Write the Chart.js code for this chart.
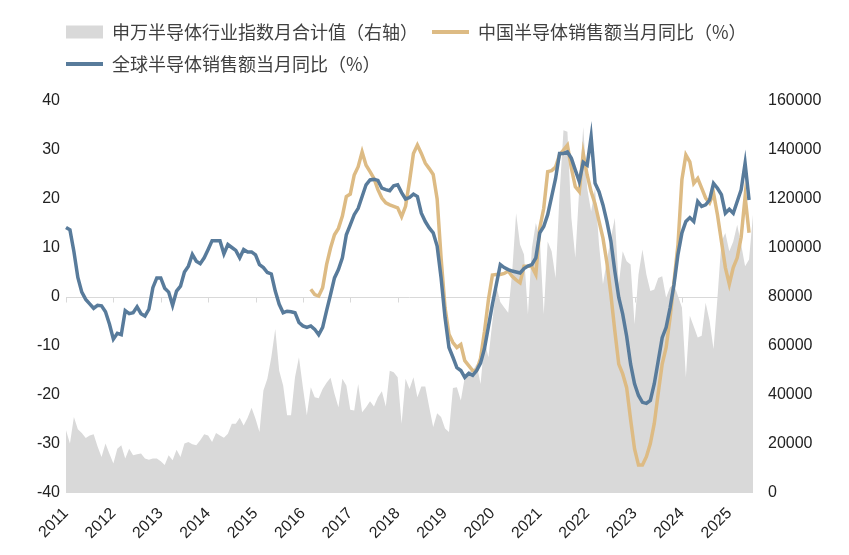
<!DOCTYPE html>
<html>
<head>
<meta charset="utf-8">
<script src="https://cdn.jsdelivr.net/npm/chart.js@4.4.1/dist/chart.umd.min.js"></script>
<style>
    html, body { margin: 0; padding: 0; background: #fff; }
    #wrap { width: 849px; height: 555px; }
</style>
</head>
<body>
<div id="wrap"><canvas id="chart"></canvas></div>
<script>
// years shown on the x axis; data is monthly, Jan 2011 - Jul 2025
const years = ["2011", "2012", "2013", "2014", "2015", "2016", "2017", "2018",
    "2019", "2020", "2021", "2022", "2023", "2024", "2025"];
const months = [];
years.forEach((y) => {
    for (let m = 1; m <= 12; m++) months.push(y + "-" + String(m).padStart(2, "0"));
});
months.length = 175;

// 申万半导体行业指数月合计值 (right axis)
const swIndex = [
    25600, 20200, 31000, 26000, 24500, 22500, 23500, 24000, 19000, 14700, 20200, 16000,
    12000, 18100, 19500, 14100, 18100, 15400, 15800, 16100, 14100, 13600, 14100, 14100,
    13000, 11400, 15400, 13400, 17700, 14700, 20200, 20800, 19900, 19500, 21500, 24000,
    23500, 20800, 24500, 23500, 22600, 24200, 28300, 28300, 30700, 27600, 30700, 34800,
    30300, 24900, 41800, 46600, 55400, 66900, 49900, 43900, 31700, 31700, 47200, 55400,
    43200, 31700, 43200, 39100, 38700, 42500, 45000, 47000, 40500, 35000, 46600, 43900,
    34000, 33700, 44500, 33000, 35000, 37500, 35300, 39100, 41500, 35300, 49900, 49300,
    47200, 28300, 46600, 42500, 47200, 39100, 43500, 43500, 35000, 26900, 32600, 31000,
    26300, 24900, 42900, 43200, 37800, 47200, 49900, 49700, 52700, 44500, 62100, 55400,
    70000, 84500, 78000, 75700, 73600, 90000, 114200, 101400, 97300, 73000, 100000, 110200,
    104100, 73000, 102700, 98700, 87800, 121700, 148100, 147400, 112200, 96000, 124400, 149400,
    124400, 114900, 124400, 101400, 85200, 95000, 104100, 112200, 85200, 98700, 94600, 93300,
    68900, 89200, 99400, 89200, 82400, 83100, 87800, 88500, 79700, 84000, 85200, 80400,
    75700, 47200, 72300, 68000, 63500, 64200, 77700, 70300, 58800, 79700, 102700, 106100,
    98700, 102700, 109500, 101400, 92600, 95300, 113600
];

// 中国半导体销售额当月同比 (%), starts Mar 2016
const chinaYoY = Array(62).fill(null).concat([
    1.6, 0.5, 0.2, 1.9, 6.6, 10.0, 12.7, 14.0, 16.5, 20.5,
    21.0, 24.9, 26.6, 29.6, 26.9, 25.6, 24.2, 21.9, 20.2, 19.2, 18.8, 18.5,
    18.2, 16.4, 18.5, 23.6, 29.3, 31.0, 29.3, 27.3, 26.2, 25.0, 20.0, 8.0,
    -2.2, -7.6, -9.3, -10.3, -9.7, -13.0, -14.0, -15.0, -15.0, -12.5, -7.0, -0.5,
    4.5, 4.6, 4.6, 4.8, 5.3, 4.2, 3.5, 2.9, 6.3, 6.3, 6.2, 4.6,
    14.1, 18.1, 25.6, 25.8, 26.5, 29.0, 30.0, 31.0, 26.3, 22.5, 21.5, 29.3,
    24.9, 21.5, 19.0, 15.5, 12.0, 7.0, 0.5, -6.9, -13.7, -15.7, -18.5, -25.0,
    -31.0, -34.3, -34.3, -32.6, -29.9, -25.8, -19.6, -13.7, -10.3, -4.2, 3.2, 10.7,
    24.0, 29.0, 27.6, 23.2, 24.2, 22.2, 20.2, 19.2, 21.2, 16.8, 11.4, 6.0,
    2.6, 6.0, 8.0, 12.2, 20.5, 13.1, null
]);

// 全球半导体销售额当月同比 (%)
const globalYoY = [
    14.2, 13.7, 9.3, 4.0, 1.0, -0.5, -1.4, -2.3, -1.7, -1.8, -3.0, -5.5,
    -8.6, -7.4, -7.7, -2.8, -3.4, -3.2, -2.0, -3.4, -3.9, -2.5, 1.9, 3.9,
    3.9, 1.8, 1.0, -1.7, 1.2, 2.2, 5.1, 6.3, 8.7, 7.3, 6.8, 8.0,
    9.7, 11.5, 11.5, 11.5, 8.8, 10.7, 10.1, 9.5, 8.0, 9.7, 9.2, 9.2,
    8.6, 6.6, 6.0, 5.0, 4.7, 1.2, -1.5, -3.2, -2.9, -3.0, -3.2, -5.2,
    -5.9, -6.2, -5.9, -6.6, -7.7, -6.2, -2.8, 0.5, 3.9, 5.6, 8.0, 12.7,
    14.7, 16.8, 18.1, 20.5, 22.9, 23.9, 24.0, 23.8, 22.2, 21.9, 21.7, 22.7,
    22.9, 21.3, 20.0, 20.3, 21.0, 20.5, 17.1, 15.4, 14.1, 13.1, 10.4, 3.9,
    -4.2, -10.3, -12.3, -14.4, -15.0, -16.4, -15.6, -16.0, -15.0, -13.5, -10.5, -6.0,
    -1.5, 2.6, 6.6, 6.0, 5.6, 5.3, 5.1, 4.9, 5.8, 6.3, 6.6, 8.0,
    13.1, 14.4, 16.8, 20.5, 24.2, 29.3, 29.3, 29.6, 28.3, 25.9, 23.6, 27.5,
    26.9, 32.7, 23.2, 21.5, 18.8, 15.4, 11.4, 5.3, -0.1, -3.5, -8.0, -13.7,
    -17.7, -20.1, -21.5, -21.7, -21.1, -17.7, -13.0, -8.3, -6.2, -2.2, 2.6, 8.7,
    13.1, 15.4, 16.2, 15.4, 19.5, 18.5, 18.8, 19.8, 23.2, 22.2, 20.9, 17.1,
    17.9, 17.1, 19.5, 21.9, 27.3, 19.8, null
];

const leftTicks = [-40, -30, -20, -10, 0, 10, 20, 30, 40];
const rightTicks = [0, 20000, 40000, 60000, 80000, 100000, 120000, 140000, 160000];

const tickFont = { family: "'Liberation Sans', Arial, sans-serif", size: 16 };

// zero line with small year ticks, drawn under the data
const zeroAxis = {
    id: "zeroAxis",
    beforeDatasetsDraw(chart) {
        const { ctx, chartArea, scales } = chart;
        const y0 = Math.round(scales.y.getPixelForValue(0)) + 0.5;
        ctx.save();
        ctx.strokeStyle = "#d9d9d9";
        ctx.lineWidth = 1;
        ctx.beginPath();
        ctx.moveTo(chartArea.left, y0);
        ctx.lineTo(chartArea.right, y0);
        months.forEach((m, i) => {
            if (m.endsWith("-01")) {
                const x = Math.round(scales.x.getPixelForValue(i)) + 0.5;
                ctx.moveTo(x, y0);
                ctx.lineTo(x, y0 + 5);
            }
        });
        ctx.stroke();
        ctx.restore();
    }
};

// move the legend so its rows start at the plot's left edge
const legendShift = {
    id: "legendShift",
    afterLayout(chart) {
        const lg = chart.legend;
        lg.left += 52;
        lg.right += 52;
        lg.top -= 18;
        lg.bottom -= 18;
    }
};

new Chart(document.getElementById("chart"), {
    type: "line",
    data: {
        labels: months,
        datasets: [
            {
                label: "申万半导体行业指数月合计值（右轴）",
                data: swIndex,
                yAxisID: "y1",
                fill: "origin",
                backgroundColor: "#d9d9d9",
                borderColor: "#d9d9d9",
                borderWidth: 0,
                pointRadius: 0,
                pointStyle: "rect",
                pointBorderWidth: 0,
                tension: 0,
                order: 3
            },
            {
                label: "中国半导体销售额当月同比（%）",
                data: chinaYoY,
                yAxisID: "y",
                borderColor: "#ddbb84",
                backgroundColor: "#ddbb84",
                borderWidth: 3.5,
                pointRadius: 0,
                pointStyle: "line",
                pointBorderWidth: 4,
                tension: 0,
                order: 2
            },
            {
                label: "全球半导体销售额当月同比（%）",
                data: globalYoY,
                yAxisID: "y",
                borderColor: "#587b9b",
                backgroundColor: "#587b9b",
                borderWidth: 3.5,
                pointRadius: 0,
                pointStyle: "line",
                pointBorderWidth: 4,
                tension: 0,
                order: 1
            }
        ]
    },
    options: {
        responsive: true,
        maintainAspectRatio: false,
        animation: false,
        layout: { padding: { top: 27, left: 0, right: 0, bottom: 0 } },
        plugins: {
            legend: {
                position: "top",
                align: "start",
                labels: {
                    usePointStyle: true,
                    pointStyleWidth: 37,
                    boxHeight: 13,
                    padding: 14,
                    color: "#404040",
                    font: { family: "'Noto Sans CJK SC', sans-serif", size: 18 },
                    sort: (a, b) => a.datasetIndex - b.datasetIndex
                }
            },
            tooltip: { enabled: false }
        },
        scales: {
            x: {
                offset: false,
                grid: { display: false, drawTicks: false },
                border: { display: false },
                afterFit: (scale) => { scale.height = 62; },
                ticks: {
                    autoSkip: false,
                    minRotation: 45,
                    maxRotation: 45,
                    padding: 11,
                    color: "#222",
                    font: tickFont,
                    callback: function (value) {
                        const lab = months[value];
                        return lab.endsWith("-01") ? lab.slice(0, 4) : null;
                    }
                }
            },
            y: {
                position: "left",
                min: -40,
                max: 40,
                grid: { display: false, drawTicks: false },
                border: { display: false },
                afterFit: (scale) => { scale.width = 66; },
                afterBuildTicks: (scale) => { scale.ticks = leftTicks.map((v) => ({ value: v })); },
                ticks: { padding: 6, color: "#222", font: tickFont }
            },
            y1: {
                position: "right",
                min: 0,
                max: 160000,
                grid: { display: false, drawTicks: false },
                border: { display: false },
                afterFit: (scale) => { scale.width = 96; },
                afterBuildTicks: (scale) => { scale.ticks = rightTicks.map((v) => ({ value: v })); },
                ticks: { padding: 15, color: "#222", font: tickFont, callback: (v) => String(v) }
            }
        }
    },
    plugins: [zeroAxis, legendShift]
});
</script>
</body>
</html>
